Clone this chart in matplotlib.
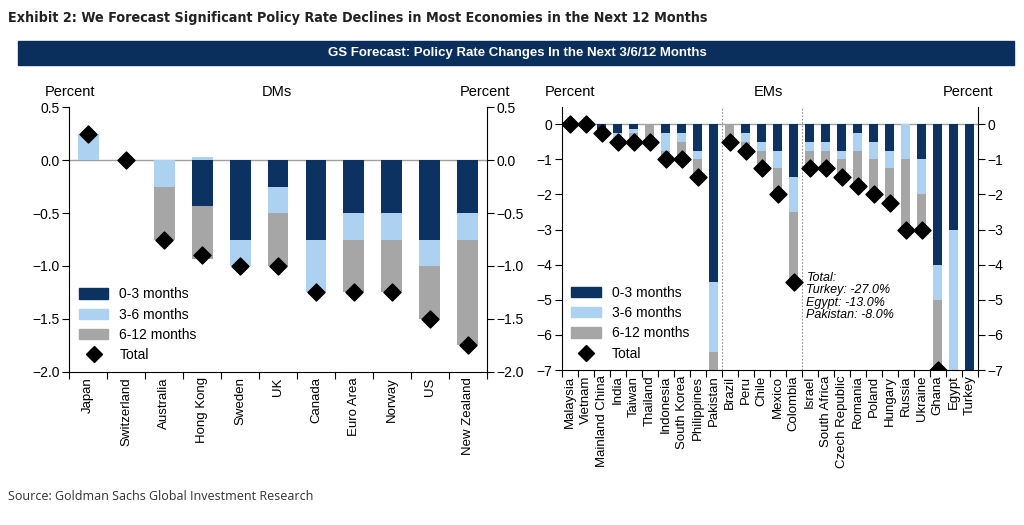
import numpy as np
import matplotlib
matplotlib.use("Agg")
import matplotlib.pyplot as plt
from matplotlib.patches import Rectangle
from matplotlib.lines import Line2D

plt.rcParams['font.family'] = ['Liberation Sans', 'DejaVu Sans']

# colours
DARK = '#0c3262'
LIGHT = '#acd1f1'
GREY = '#a6a6a6'

# DMs
dm_names = ['Japan', 'Switzerland', 'Australia', 'Hong Kong', 'Sweden', 'UK',
            'Canada', 'Euro Area', 'Norway', 'US', 'New Zealand']
dm_03 = [0.0, 0.0, 0.0, -0.43, -0.75, -0.25, -0.75, -0.5, -0.5, -0.75, -0.5]
dm_36 = [0.25, 0.0, -0.25, 0.03, -0.25, -0.25, -0.5, -0.25, -0.25, -0.25, -0.25]
dm_612 = [0.0, 0.0, -0.5, -0.5, 0.0, -0.5, 0.0, -0.5, -0.5, -0.5, -1.0]

# EMs
em_names = ['Malaysia', 'Vietnam', 'Mainland China', 'India', 'Taiwan', 'Thailand',
            'Indonesia', 'South Korea', 'Philippines', 'Pakistan',
            'Brazil', 'Peru', 'Chile', 'Mexico', 'Colombia',
            'Israel', 'South Africa', 'Czech Republic', 'Romania', 'Poland',
            'Hungary', 'Russia', 'Ukraine', 'Ghana', 'Egypt', 'Turkey']
em_03 = [0.0, 0.0, -0.25, -0.25, -0.125, 0.0, -0.25, -0.25, -0.75, -4.5,
         0.0, -0.25, -0.5, -0.75, -1.5,
         -0.5, -0.5, -0.75, -0.25, -0.5, -0.75, 0.0, -1.0, -4.0, -3.0, -27.0]
em_36 = [0.0, 0.0, 0.0, -0.25, -0.125, 0.0, -0.5, -0.25, -0.25, -2.0,
         0.0, -0.25, -0.25, -0.5, -1.0,
         -0.25, -0.25, -0.25, -0.5, -0.5, -0.5, -1.0, -1.0, -1.0, -10.0, 0.0]
em_612 = [0.0, 0.0, 0.0, 0.0, -0.25, -0.5, -0.25, -0.5, -0.5, -1.5,
          -0.5, -0.25, -0.5, -0.75, -2.0,
          -0.5, -0.5, -0.5, -1.0, -1.0, -1.0, -2.0, -1.0, -2.0, 0.0, 0.0]


def stacked(ax, names, parts, ylim, yticks, fmt):
    x = np.arange(len(names))
    pos = np.zeros(len(names))
    neg = np.zeros(len(names))
    for vals, col in zip(parts, [DARK, LIGHT, GREY]):
        vals = np.array(vals, dtype=float)
        bottom = np.where(vals >= 0, pos, neg)
        ax.bar(x, vals, 0.55, bottom=bottom, color=col, zorder=2)
        pos = pos + np.clip(vals, 0, None)
        neg = neg + np.clip(vals, None, 0)
    total = np.sum(parts, axis=0)
    ax.scatter(x, total, marker='D', s=75, color='black', zorder=4)
    ax.axhline(0, color='#a0a0a0', lw=1, zorder=1)
    ax.set_xlim(-0.5, len(names) - 0.5)
    ax.set_ylim(*ylim)
    ax.set_yticks(yticks)
    ax.set_yticklabels([fmt.format(v).replace('-', '\u2212') for v in yticks])
    ax.spines['top'].set_visible(False)
    ax.tick_params(axis='y', which='both', direction='out', length=5,
                   left=True, right=True, labelleft=True, labelright=True,
                   labelsize=10, pad=2)
    ax.set_xticks(np.arange(len(names) + 1) - 0.5)
    ax.set_xticklabels([])
    ax.set_xticks(x, minor=True)
    ax.set_xticklabels(names, minor=True, rotation=90, fontsize=9.5)
    ax.tick_params(axis='x', which='major', direction='out', length=5)
    ax.tick_params(axis='x', which='minor', length=0, pad=4)
    handles = [Rectangle((0, 0), 1, 1, color=DARK), Rectangle((0, 0), 1, 1, color=LIGHT),
               Rectangle((0, 0), 1, 1, color=GREY),
               Line2D([], [], marker='D', color='black', ls='', markersize=8.5)]
    ax.legend(handles, ['0-3 months', '3-6 months', '6-12 months', 'Total'],
              loc='lower left', bbox_to_anchor=(0.01, 0.015), frameon=False,
              fontsize=10, handlelength=2.1, handleheight=0.75, labelspacing=0.45,
              handletextpad=0.8, borderaxespad=0)


fig = plt.figure(figsize=(10.24, 5.25), dpi=100)

ax1 = fig.add_axes([0.0677, 0.292, 0.4076, 0.5036])
stacked(ax1, dm_names, [dm_03, dm_36, dm_612], (-2.0, 0.5),
        [0.5, 0.0, -0.5, -1.0, -1.5, -2.0], '{:.1f}')

ax2 = fig.add_axes([0.5485, 0.2952, 0.4063, 0.5016])
stacked(ax2, em_names, [em_03, em_36, em_612], (-7.0, 0.5),
        [0, -1, -2, -3, -4, -5, -6, -7], '{:.0f}')
for xs in [9.5, 14.5]:
    ax2.axvline(xs, color='#909090', lw=0.8, ls=(0, (1.5, 1.5)), zorder=1)
ax2.text(14.8, -4.2, 'Total:\nTurkey: -27.0%\nEgypt: -13.0%\nPakistan: -8.0%',
         fontsize=9, style='italic', va='top', ha='left', linespacing=1.05)

# headers over the panels
for xp, s in [(70, 'Percent'), (277, 'DMs'), (485, 'Percent'),
              (570, 'Percent'), (768, 'EMs'), (968, 'Percent')]:
    fig.text(xp / 1024, 1 - 92 / 525, s, ha='center', va='center', fontsize=10.5)

# title, banner, source
fig.text(8 / 1024, 1 - 18 / 525,
         'Exhibit 2: We Forecast Significant Policy Rate Declines in Most Economies in the Next 12 Months',
         fontsize=10.3, fontweight='bold', family='DejaVu Sans', fontstretch='condensed',
         color='#222222', ha='left', va='center')
fig.patches.append(Rectangle((18 / 1024, 1 - 65 / 525), (1014 - 18) / 1024, 24 / 525,
                             transform=fig.transFigure, color='#0b2f5c', zorder=0))
fig.text(517 / 1024, 1 - 53 / 525, 'GS Forecast: Policy Rate Changes In the Next 3/6/12 Months',
         fontsize=9.5, fontweight='bold', color='white', ha='center', va='center')
fig.text(8 / 1024, 1 - 497 / 525, 'Source: Goldman Sachs Global Investment Research',
         fontsize=9, family=['Open Sans', 'DejaVu Sans'], color='#333333',
         ha='left', va='center')

fig.savefig('out.png', dpi=100)
